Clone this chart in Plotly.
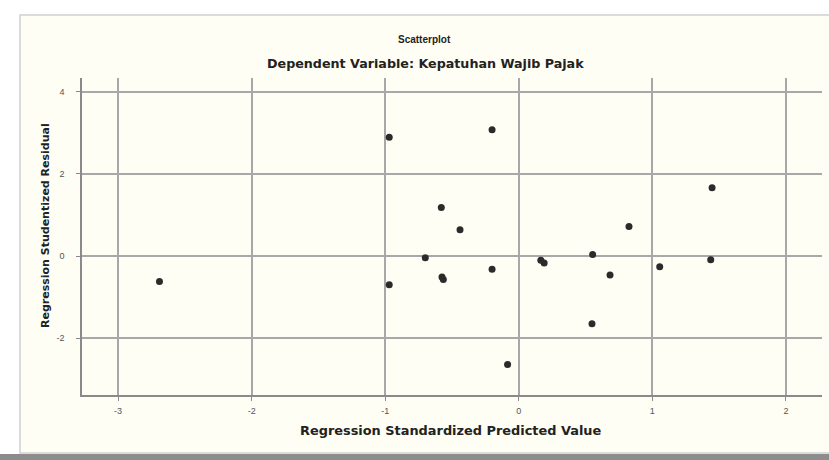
import plotly.graph_objects as go

# Regression Standardized Predicted Value
predicted = [-2.69, -0.97, -0.20, -0.58, -0.44, -0.70, -0.97, -0.575, -0.565,
             -0.20, 0.165, 0.19, 0.553, 0.825, 0.683, 0.548, -0.084, 1.055,
             1.447, 1.437]
# Regression Studentized Residual
residual = [-0.62, 2.89, 3.07, 1.18, 0.64, -0.04, -0.70, -0.51, -0.57,
            -0.32, -0.10, -0.17, 0.04, 0.72, -0.46, -1.65, -2.64, -0.26,
            1.66, -0.09]

x_ticks = [-3, -2, -1, 0, 1, 2]
y_ticks = [-2, 0, 2, 4]

W, H = 829, 460
L, R, T, B = 82, 7, 78, 65
pw, ph = W - L - R, H - T - B

def px(xp):
    return (xp - L) / pw

def py(yp):
    return (H - B - yp) / ph

cream = "#fffef4"
font = "Liberation Sans"
wfont = "DejaVu Sans"

fig = go.Figure()
fig.add_trace(go.Scatter(
    x=predicted, y=residual, mode="markers",
    marker=dict(size=7, color="#2b2b2b", line=dict(width=0)),
    hoverinfo="skip", showlegend=False))

axis_common = dict(showgrid=True, gridcolor="#a8a8a8", gridwidth=1.5, zeroline=False,
                   showline=True, linecolor="#8a8a8a", linewidth=1.5,
                   ticks="outside", ticklen=4, tickcolor="#8a8a8a",
                   tickfont=dict(family=font, size=9, color="#555"))

fig.update_layout(
    width=W, height=H,
    margin=dict(l=L, r=R, t=T, b=B),
    paper_bgcolor="white",
    plot_bgcolor=cream,
    xaxis=dict(range=[-3.27, 2.27], tickvals=x_ticks, ticktext=[str(v) for v in x_ticks],
               ticklabelstandoff=2, **axis_common),
    yaxis=dict(range=[-3.38, 4.33], tickvals=y_ticks, ticktext=[str(v) for v in y_ticks],
               ticklabelstandoff=10, **axis_common),
)

# panel background and frame
fig.add_shape(type="rect", xref="paper", yref="paper", layer="below",
              x0=px(20), x1=px(832), y0=py(453), y1=py(15),
              fillcolor=cream, line=dict(color="#d0d0d0", width=1.5))
fig.add_shape(type="rect", xref="paper", yref="paper", layer="below",
              x0=px(0), x1=px(829), y0=py(461), y1=py(454),
              fillcolor="#8c8c8c", line=dict(width=0))

def label(text, xp, yp, size, fam, angle=0):
    fig.add_annotation(text=text, xref="paper", yref="paper",
                       x=px(xp), y=py(yp), xanchor="center", yanchor="middle",
                       showarrow=False, textangle=angle,
                       font=dict(family=fam, size=size, color="#222"))

label("<b>Scatterplot</b>", 424, 39, 10, font)
label("<b>Dependent Variable: Kepatuhan Wajib Pajak</b>", 425, 63, 12.7, wfont)
label("<b>Regression Standardized Predicted Value</b>", 451, 430, 12.9, wfont)
label("<b>Regression Studentized Residual</b>", 45, 226, 11, wfont, -90)

fig.write_html("out.html", config={"displayModeBar": False},
               post_script="document.body.style.margin='0';document.body.style.padding='0';")
